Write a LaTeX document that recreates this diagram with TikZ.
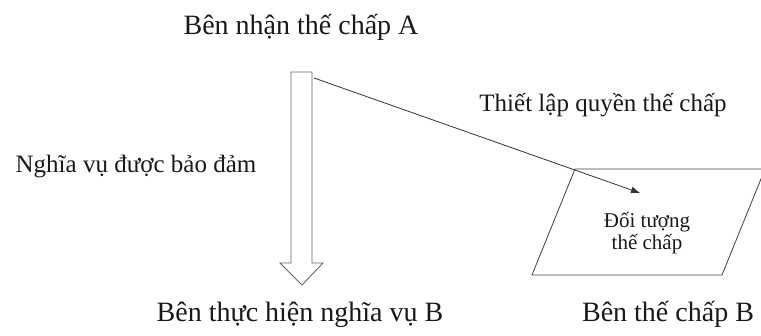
\documentclass[tikz,border=0pt]{standalone}
\usepackage{fontspec}
\setmainfont{Liberation Serif}
\usetikzlibrary{arrows.meta}
\begin{document}
\begin{tikzpicture}[x=1pt,y=-1pt,
  big/.style={font=\fontsize{28}{30}\selectfont, text=black!90, inner sep=0pt, anchor=base},
  mid/.style={font=\fontsize{25}{27}\selectfont, text=black!90, inner sep=0pt, anchor=base},
  small/.style={font=\fontsize{21}{22}\selectfont, text=black!90, inner sep=0pt, align=center},
  blockarrow/.style={draw=black!60, line width=0.9pt, fill=white},
  shapeline/.style={draw=black!75, line width=0.8pt},
  link/.style={draw=black!80, line width=0.8pt, -{Latex[length=9pt,width=7pt]}}]
\useasboundingbox (0,0) rectangle (761,336);
% texts
\node[big] (A) at (301,35) {Bên nhận thế chấp A};
\node[mid] (lap) at (603,112) {Thiết lập quyền thế chấp};
\node[mid] (nv) at (136,173) {Nghĩa vụ được bảo đảm};
\node[big] (B1) at (300,322) {Bên thực hiện nghĩa vụ B};
\node[big] (B2) at (668,322) {Bên thế chấp B};
% block arrow
\draw[blockarrow] (291,72) -- (312,72) -- (312,263) -- (323,263) -- (302,285)
  -- (280,263) -- (291,263) -- cycle;
\coordinate (start) at (314,78);
% parallelogram
\coordinate (p1) at (575,169);
\coordinate (p2) at (765,169);
\coordinate (p3) at (722,275);
\coordinate (p4) at (532,275);
\draw[shapeline] (p1) -- (p2) -- (p3) -- (p4) -- cycle;
\node[small] (obj) at (647,233) {Đối tượng\\thế chấp};
\coordinate (tip) at (640,193);
\draw[link] (start) -- (tip);
\end{tikzpicture}
\end{document}
